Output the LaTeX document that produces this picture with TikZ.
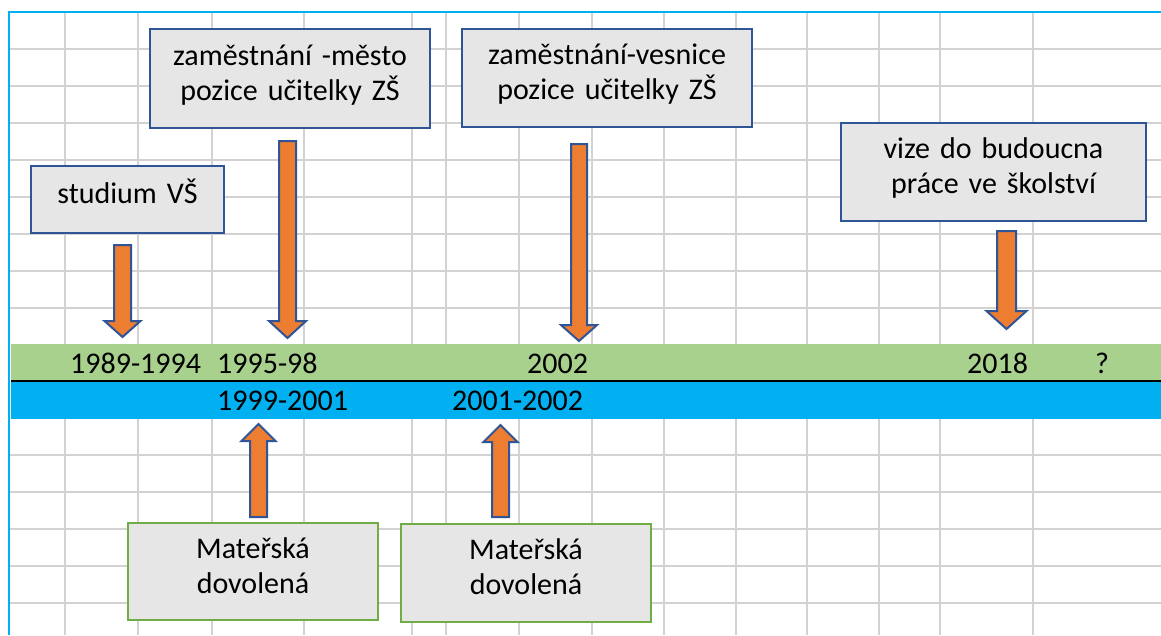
\documentclass[tikz,border=0pt]{standalone}
\usepackage{fontspec}
\setmainfont{Carlito}
\definecolor{gridgray}{RGB}{210,210,210}
\definecolor{sheetblue}{RGB}{0,176,240}
\definecolor{bandgreen}{RGB}{169,209,142}
\definecolor{boxgray}{RGB}{231,230,230}
\definecolor{boxblue}{RGB}{47,85,151}
\definecolor{leavegreen}{RGB}{112,173,71}
\definecolor{arroworange}{RGB}{237,125,49}
\newcommand\cardfont{\fontsize{30}{35}\selectfont}
% block arrow: centre x, start y, head base y, tip y, shaft half width, head half width
\newcommand\blockarr[6]{%
  \draw[blockarrow] ({#1-#5},#2) -- ({#1+#5},#2) -- ({#1+#5},#3) -- ({#1+#6},#3)
    -- (#1,#4) -- ({#1-#6},#3) -- ({#1-#5},#3) -- cycle;}
\begin{document}
\begin{tikzpicture}[x=1pt,y=-1pt,
  gridline/.style={draw=gridgray, line width=1.6pt},
  card/.style={draw=boxblue, line width=2pt, fill=boxgray, align=center,
    font=\cardfont, inner sep=0pt, text height=22pt},
  oneline/.style={text depth=13.7pt},
  twoline/.style={text depth=48.7pt},
  leave/.style={card, twoline, draw=leavegreen},
  year/.style={anchor=base west, font=\cardfont, inner sep=0pt},
  blockarrow/.style={draw=boxblue, line width=2pt, fill=arroworange, line join=miter}
]
\useasboundingbox (0,0) rectangle (1161,635);
\fill[white] (0,0) rectangle (1161,635);

% spreadsheet grid
\foreach \gx in {65,138,212,304,412,446,519,592,664,736,807,879,940,1033}
  \draw[gridline] (\gx,12) -- (\gx,635);
\foreach \gy in {49,86,123,160,197,234,271,308,455,492,529,566,603}
  \draw[gridline] (9,\gy) -- (1161,\gy);

% timeline bands
\fill[bandgreen] (11,344) rectangle (1161,381);
\fill[sheetblue] (11,381) rectangle (1161,419);
\draw[black, line width=1.2pt] (11,381) -- (1161,381);

% years
\node[year] (y1) at (70,373.5) {1989-1994};
\node[year] (y2) at (217,373.5) {1995-98};
\node[year] (y3) at (527,373.5) {2002};
\node[year] (y4) at (967,373.5) {2018};
\node[year] (y5) at (1095,373.5) {?};
\node[year] (y6) at (217,410) {1999-2001};
\node[year] (y7) at (452,410) {2001-2002};

% event boxes
\node[card, oneline, minimum width=193pt, minimum height=67pt, text width=185pt]
  (studium) at (127.5,199.5) {studium VŠ};
\node[card, twoline, minimum width=280pt, minimum height=99pt, text width=270pt]
  (mesto) at (290,78.5) {zaměstnání -město\\pozice učitelky ZŠ};
\node[card, twoline, minimum width=290pt, minimum height=98pt, text width=280pt]
  (vesnice) at (607,78) {zaměstnání-vesnice\\pozice učitelky ZŠ};
\node[card, twoline, minimum width=305pt, minimum height=98pt, text width=295pt]
  (vize) at (993.5,172) {vize do budoucna\\práce ve školství};
\node[leave, minimum width=250pt, minimum height=97pt, text width=240pt]
  (mat1) at (253,571.5) {Mateřská\\dovolená};
\node[leave, minimum width=250pt, minimum height=98pt, text width=240pt]
  (mat2) at (526,573) {Mateřská\\dovolená};

% arrows to the timeline
\blockarr{122.5}{245}{321}{337}{8.5}{18}
\blockarr{287.5}{141}{321}{338}{8.5}{18.5}
\blockarr{579}{144}{325}{341}{8}{18}
\blockarr{1006.5}{231}{311}{329}{9.5}{20}
\blockarr{258.5}{517}{441}{424}{8.5}{17}
\blockarr{500.5}{517}{442}{425}{8.5}{17}

% sheet border
\draw[sheetblue, line width=2.5pt] (9,635) -- (9,12) -- (1161,12);
\end{tikzpicture}
\end{document}
